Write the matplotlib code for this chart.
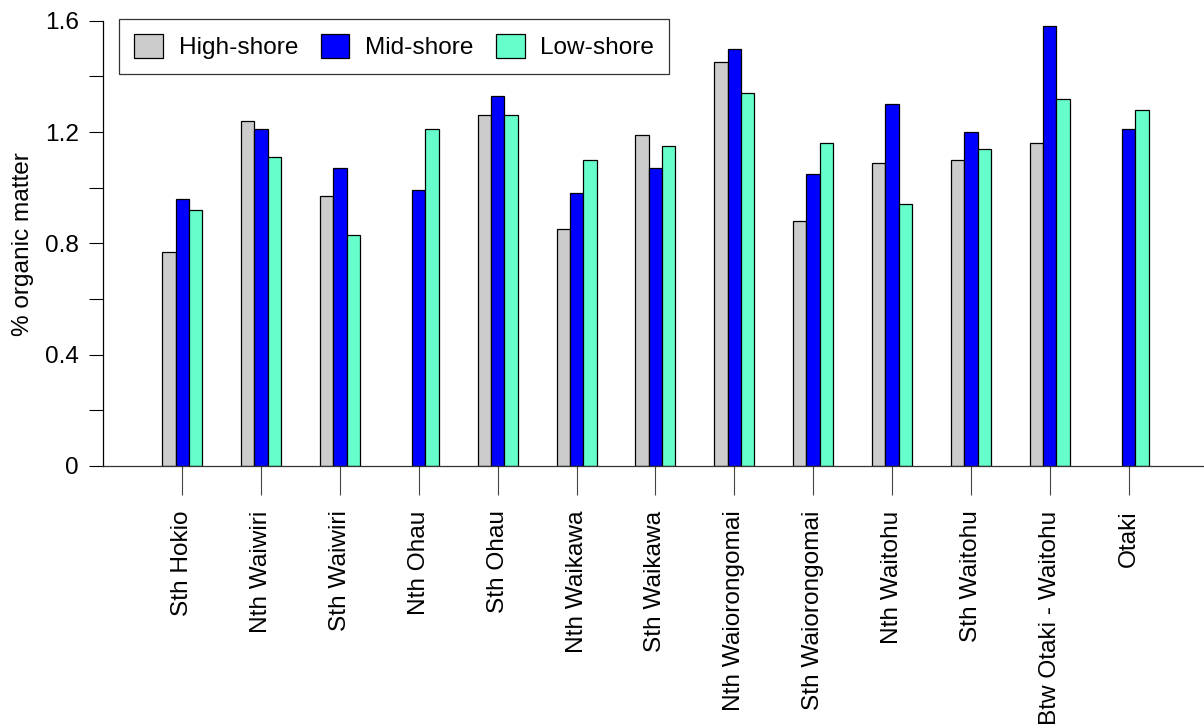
import numpy as np
import matplotlib
matplotlib.use("Agg")
import matplotlib.pyplot as plt

plt.rcParams['font.family'] = ['Liberation Sans', 'DejaVu Sans']

sites = ['Sth Hokio', 'Nth Waiwiri', 'Sth Waiwiri', 'Nth Ohau', 'Sth Ohau',
         'Nth Waikawa', 'Sth Waikawa', 'Nth Waiorongomai', 'Sth Waiorongomai',
         'Nth Waitohu', 'Sth Waitohu', 'Btw Otaki - Waitohu', 'Otaki']

# % organic matter per shore height (no high-shore sample at Nth Ohau / Otaki)
high_shore = [0.77, 1.24, 0.97, np.nan, 1.26, 0.85, 1.19, 1.45, 0.88, 1.09, 1.10, 1.16, np.nan]
mid_shore = [0.96, 1.21, 1.07, 0.99, 1.33, 0.98, 1.07, 1.50, 1.05, 1.30, 1.20, 1.58, 1.21]
low_shore = [0.92, 1.11, 0.83, 1.21, 1.26, 1.10, 1.15, 1.34, 1.16, 0.94, 1.14, 1.32, 1.28]

series = [('High-shore', high_shore, '#CCCCCC'),
          ('Mid-shore', mid_shore, '#0000FF'),
          ('Low-shore', low_shore, '#66FFCC')]

fig = plt.figure(figsize=(12.04, 7.25), dpi=100)
ax = fig.add_axes([103.3 / 1204, 1 - 466 / 725, 1 - 103.3 / 1204, (466 - 20.7) / 725])

x = np.arange(len(sites))
w = 0.169
for i, (name, vals, col) in enumerate(series):
    ax.bar(x + (i - 1) * w, vals, width=w, color=col, edgecolor='black',
           linewidth=0.9, label=name)

ax.set_xlim(-1.0, 12.956)
ax.set_ylim(0, 1.6)

yt = np.arange(0, 1.61, 0.2)
ax.set_yticks(yt)
ax.set_yticklabels(['0' if v == 0 else ('%.1f' % v if round(v / 0.4, 6) % 1 == 0 else '')
                    for v in yt])
ax.set_xticks(x)
ax.set_xticklabels(sites, rotation=90, va='top', ha='center')

ax.tick_params(axis='y', length=10, width=0.8, pad=7.5, labelsize=17.6, color='black')
ax.tick_params(axis='x', length=21, width=0.8, pad=11, labelsize=17.6, color='#444444')

for s in ['top', 'right']:
    ax.spines[s].set_visible(False)
ax.spines['left'].set_linewidth(0.9)
ax.spines['bottom'].set_linewidth(0.9)
ax.spines['bottom'].set_color('#333333')

fig.text(23 / 1204, 1 - 244 / 725, '% organic matter', rotation=90,
         ha='center', va='center', fontsize=17.6)

leg = ax.legend(loc='upper left', bbox_to_anchor=(119.3 / 1204, 1 - 19 / 725),
                bbox_transform=fig.transFigure, ncol=3, fontsize=17.6,
                frameon=True, fancybox=False, borderaxespad=0, borderpad=0.62,
                handlelength=1.18, handleheight=1.1, handletextpad=0.64,
                columnspacing=0.91)
leg.get_frame().set_edgecolor('black')
leg.get_frame().set_linewidth(0.9)

fig.savefig('out.png', dpi=100)
